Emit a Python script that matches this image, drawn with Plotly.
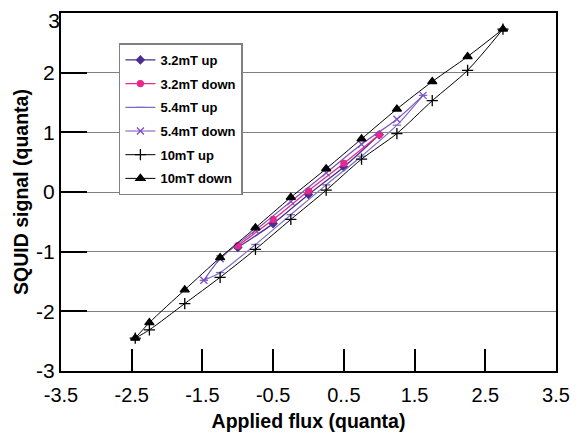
import plotly.graph_objects as go

# ---- data ----
x_32_up = [-1.0, -0.5, 0.0, 0.5, 1.0]
y_32_up = [-0.93, -0.53, -0.04, 0.42, 0.96]

x_32_down = [1.0, 0.5, 0.0, -0.5, -1.0]
y_32_down = [0.96, 0.48, 0.02, -0.46, -0.90]

x_54_up = [-1.48, -1.25, -0.75, -0.25, 0.25, 0.75, 1.25, 1.62]
y_54_up = [-1.48, -1.35, -0.88, -0.38, 0.12, 0.60, 1.12, 1.62]

x_54_down = [1.62, 1.25, 0.75, 0.25, -0.25, -0.75, -1.25, -1.48]
y_54_down = [1.62, 1.22, 0.80, 0.32, -0.16, -0.64, -1.12, -1.48]

x_10_up = [-2.45, -2.25, -1.75, -1.25, -0.75, -0.25, 0.25, 0.75, 1.25, 1.75, 2.25, 2.75]
y_10_up = [-2.45, -2.31, -1.87, -1.43, -0.96, -0.46, 0.03, 0.55, 0.98, 1.53, 2.04, 2.73]

x_10_down = [2.75, 2.25, 1.75, 1.25, 0.75, 0.25, -0.25, -0.75, -1.25, -1.75, -2.25, -2.45]
y_10_down = [2.73, 2.27, 1.85, 1.39, 0.89, 0.39, -0.09, -0.60, -1.10, -1.64, -2.19, -2.45]

x_tickvals = [-3.5, -2.5, -1.5, -0.5, 0.5, 1.5, 2.5, 3.5]
x_ticktext = ["-3.5", "-2.5", "-1.5", "-0.5", "0..5", "1.5", "2.5", "3.5"]
y_tickvals = [-3, -2, -1, 0, 1, 2, 3]
y_ticktext = ["-3", "-2", "-1", "0", "1", "2", "3"]
x_range = [-3.5, 3.5]
y_range = [-3, 3]

series = [
    ("3.2mT up", x_32_up, y_32_up, "#4B2D8F", "diamond", 6, 1.3),
    ("3.2mT down", x_32_down, y_32_down, "#E8288C", "circle", 6, 1.3),
    ("5.4mT up", x_54_up, y_54_up, "#7D6CC6", "line-ew", 6, 1.2),
    ("5.4mT down", x_54_down, y_54_down, "#7A4FC0", "x-thin", 7, 1.2),
    ("10mT up", x_10_up, y_10_up, "#000000", "cross-thin", 8, 1.0),
    ("10mT down", x_10_down, y_10_down, "#000000", "triangle-up", 8, 1.0),
]

fig = go.Figure()
for i, (name, xs, ys, col, sym, size, lw) in enumerate(series):
    fig.add_trace(go.Scatter(
        x=xs, y=ys, name=name, mode="lines+markers",
        legendgroup=f"g{i}",
        line=dict(color=col, width=lw, shape="spline", smoothing=0.8),
        marker=dict(symbol=sym, size=size, color=col,
                    line=dict(color=col, width=1.3)),
    ))

# empty helper trace so that the overlay axes (inside x ticks, top y label) are drawn
fig.add_trace(go.Scatter(x=[], y=[], xaxis="x2", yaxis="y3",
                         showlegend=False, hoverinfo="skip"))

font_family = "Liberation Sans, Arial, sans-serif"

# the top label "3" sits a little below its tick in the original (offset in axis units)
top_label_offset = 0.12

# page body has an 8px default margin, so the figure is offset by 8px
fig.update_layout(
    width=570, height=425,
    margin=dict(l=53, r=22, t=5, b=62, autoexpand=False),
    paper_bgcolor="white", plot_bgcolor="white",
    font=dict(family=font_family, color="black"),
    showlegend=True,
    legend=dict(
        x=0.117, y=0.915, xanchor="left", yanchor="top",
        bgcolor="white", bordercolor="#808080", borderwidth=1.5,
        font=dict(size=13, family=font_family, color="black", weight="bold"),
        tracegroupgap=3.8,
        itemwidth=30,
    ),
    xaxis2=dict(overlaying="x", anchor="y3", side="bottom", range=x_range,
                tickvals=x_tickvals, showticklabels=False, showgrid=False,
                zeroline=False, showline=False, ticks="inside", ticklen=22,
                tickwidth=2, tickcolor="black", automargin=False),
    yaxis3=dict(overlaying="y", anchor="x2", side="left",
                range=[y_range[0] + top_label_offset, y_range[1] + top_label_offset],
                tickvals=y_tickvals[-1:], ticktext=y_ticktext[-1:],
                showgrid=False, zeroline=False, showline=False, ticks="",
                ticklabeloverflow="allow",
                tickfont=dict(size=21, family=font_family), automargin=False),
)

fig.update_layout(
    xaxis=dict(
        range=x_range, tickvals=x_tickvals, ticktext=x_ticktext,
        showgrid=False, zeroline=False, automargin=False,
        showline=True, mirror=True, linecolor="black", linewidth=2,
        ticks="outside", ticklen=5, tickwidth=1, tickcolor="white",
        ticklabeloverflow="allow",
        tickfont=dict(size=20, family=font_family),
        title=dict(text="Applied flux (quanta)",
                   font=dict(size=19.5, family=font_family, weight="bold"),
                   standoff=9),
    ),
    yaxis=dict(
        range=y_range, tickvals=y_tickvals,
        ticktext=y_ticktext[:-1] + [""],
        showgrid=True, gridcolor="#808080", gridwidth=1, zeroline=False, automargin=False,
        showline=True, mirror=True, linecolor="black", linewidth=2,
        ticks="inside", ticklen=26, tickwidth=2, tickcolor="black",
        ticklabeloverflow="allow",
        tickfont=dict(size=21, family=font_family),
        title=dict(text="SQUID signal (quanta)",
                   font=dict(size=19.5, family=font_family, weight="bold"),
                   standoff=2),
    ),
)

fig.write_html("out.html")
